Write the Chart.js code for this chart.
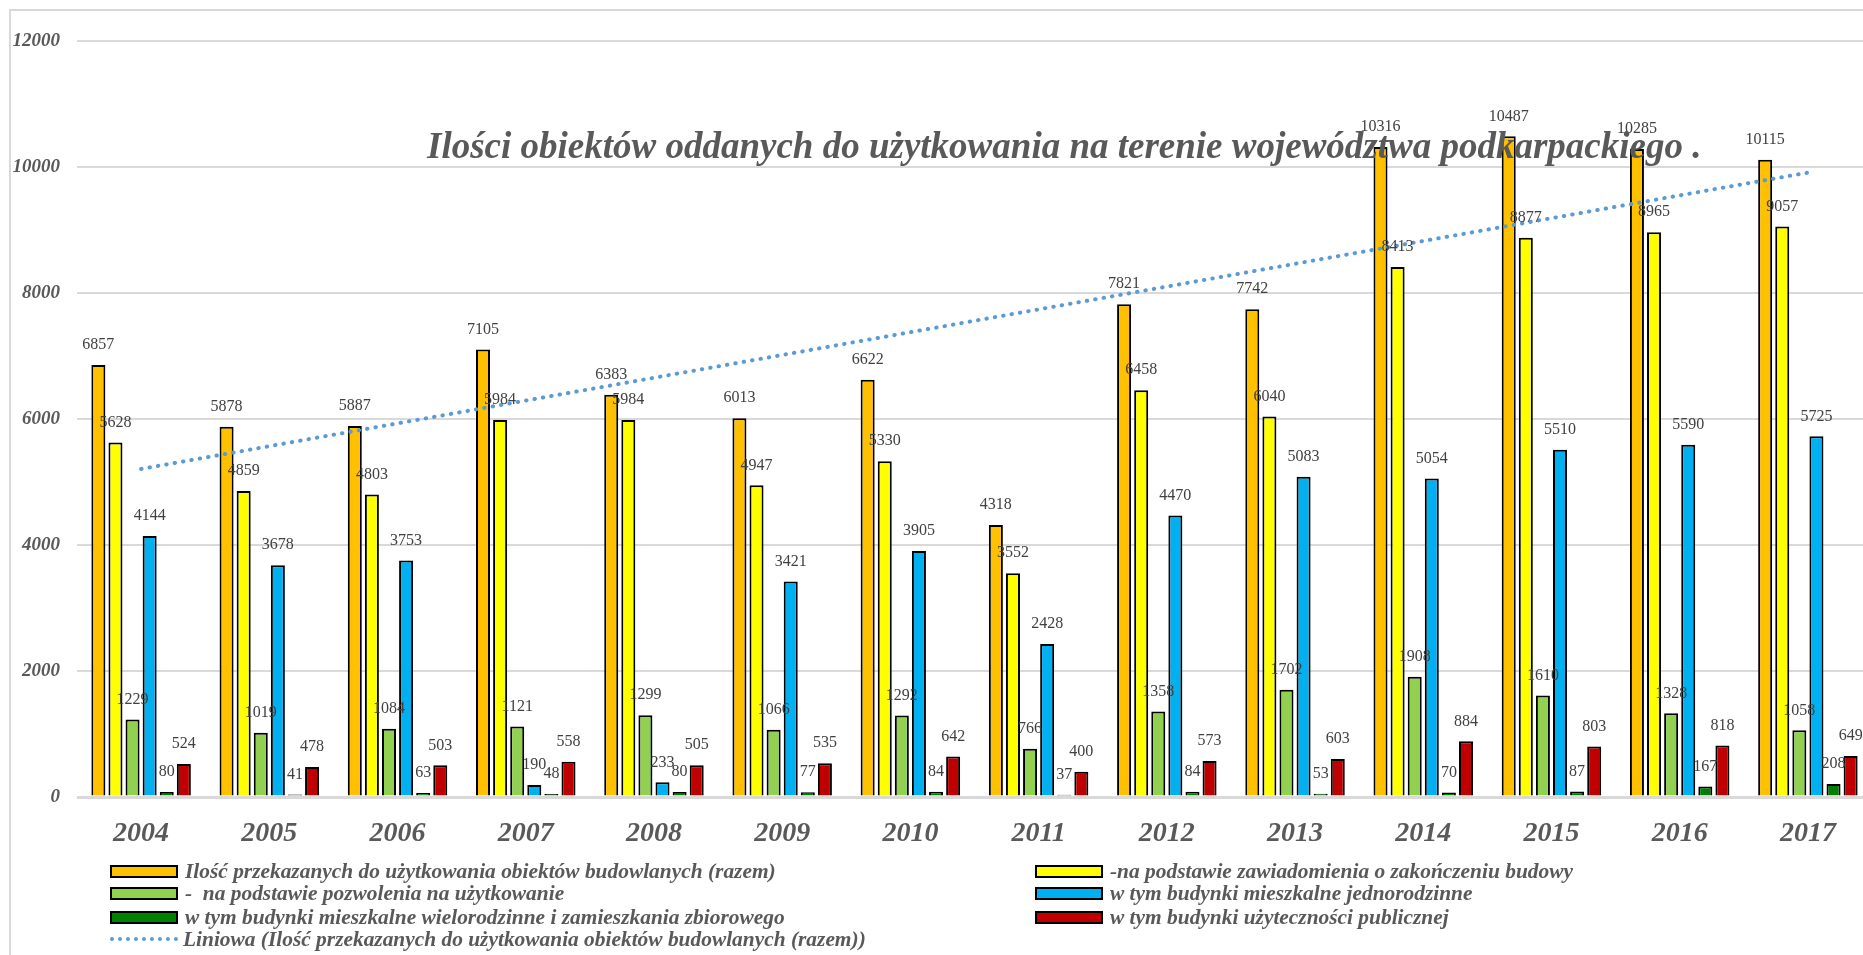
<!DOCTYPE html>
<html>
<head>
<meta charset="utf-8">
<script src="https://cdn.jsdelivr.net/npm/chart.js"></script>
<style>
  body { margin: 0; background: #fff; overflow: hidden; width: 1863px; height: 955px; position: relative; }
  #frame { position: absolute; left: 9px; top: 9px; width: 2000px; height: 1000px; border-left: 2px solid #d9d9d9; border-top: 2px solid #d9d9d9; }
  #chart { position: absolute; left: 0; top: 0; }
  #title { position: absolute; left: 427px; top: 127px; font: bold italic 37px/37px "Liberation Serif", serif; color: #595959; white-space: pre; pointer-events: none; }
  .item { position: absolute; height: 24px; display: flex; align-items: center; font: bold italic 21.4px "Liberation Serif", serif; color: #595959; white-space: pre; }
  .box { width: 64px; height: 9px; border: 2px solid #000; margin-right: 7px; }
  .dots { width: 68px; height: 0; border-top: 4px dotted #5b9bd5; margin-right: 5px; }
</style>
</head>
<body>
<div id="frame"></div>
<canvas id="chart" width="1885" height="955" style="width:1885px;height:955px"></canvas>
<div id="title">Ilości obiektów oddanych do użytkowania na terenie województwa podkarpackiego .</div>
<div id="legend"></div>
<script>
const years = ["2004", "2005", "2006", "2007", "2008", "2009", "2010", "2011", "2012", "2013", "2014", "2015", "2016", "2017"];

const totalObjects = [6857, 5878, 5887, 7105, 6383, 6013, 6622, 4318, 7821, 7742, 10316, 10487, 10285, 10115];
const byNotice = [5628, 4859, 4803, 5984, 5984, 4947, 5330, 3552, 6458, 6040, 8413, 8877, 8965, 9057];
const byPermit = [1229, 1019, 1084, 1121, 1299, 1066, 1292, 766, 1358, 1702, 1908, 1610, 1328, 1058];
const singleFamily = [4144, 3678, 3753, 190, 233, 3421, 3905, 2428, 4470, 5083, 5054, 5510, 5590, 5725];
const multiFamily = [80, 41, 63, 48, 80, 77, 84, 37, 84, 53, 70, 87, 167, 208];
const publicUse = [524, 478, 503, 558, 505, 535, 642, 400, 573, 603, 884, 803, 818, 649];

// trend line: value at 2004 and at 2017
const trendEnds = [5207, 9911];

const names = [
  "Ilość przekazanych do użytkowania obiektów budowlanych (razem)",
  "-na podstawie zawiadomienia o zakończeniu budowy",
  "-  na podstawie pozwolenia na użytkowanie",
  "w tym budynki mieszkalne jednorodzinne",
  "w tym budynki mieszkalne wielorodzinne i zamieszkania zbiorowego",
  "w tym budynki użyteczności publicznej"
];
const trendName = "Liniowa (Ilość przekazanych do użytkowania obiektów budowlanych (razem))";
const colors = ["#FFC000", "#FFFF00", "#92D050", "#00B0F0", "#008000", "#C00000"];
const series = [totalObjects, byNotice, byPermit, singleFamily, multiFamily, publicUse];

const trendData = years.map((y, i) => i === 0 ? trendEnds[0] : (i === years.length - 1 ? trendEnds[1] : null));

const datasets = series.map((values, i) => ({
  type: "bar",
  label: names[i],
  data: values,
  backgroundColor: colors[i],
  borderColor: "#000",
  borderWidth: 2,
  categoryPercentage: 0.8,
  barPercentage: 0.82,
  order: 1
}));
datasets.push({
  type: "line",
  label: trendName,
  data: trendData,
  borderColor: "#5B9BD5",
  borderWidth: 4,
  borderDash: [0.5, 8],
  borderCapStyle: "round",
  pointRadius: 0,
  spanGaps: true,
  fill: false,
  order: 0
});

const valueLabels = {
  id: "valueLabels",
  afterDatasetsDraw(chart) {
    const ctx = chart.ctx;
    ctx.save();
    ctx.font = '16px "Liberation Serif"';
    ctx.fillStyle = "#404040";
    ctx.textAlign = "center";
    ctx.textBaseline = "middle";
    chart.data.datasets.forEach((ds, i) => {
      if (ds.type !== "bar") return;
      chart.getDatasetMeta(i).data.forEach((bar, j) => {
        ctx.fillText(ds.data[j], bar.x, bar.y - 20);
      });
    });
    ctx.restore();
  }
};

new Chart(document.getElementById("chart"), {
  data: { labels: years, datasets: datasets },
  options: {
    responsive: false,
    animation: false,
    layout: { padding: { top: 41, right: 13, left: 0, bottom: 0 } },
    plugins: {
      legend: { display: false },
      tooltip: { enabled: false }
    },
    scales: {
      x: {
        grid: { display: false },
        border: { display: false },
        ticks: {
          padding: 12,
          color: "#595959",
          font: { family: "Liberation Serif", size: 28, style: "italic", weight: "bold" }
        },
        afterFit(scale) { scale.height = 158; }
      },
      y: {
        min: 0,
        max: 12000,
        border: { display: false },
        grid: {
          color: "#D9D9D9",
          lineWidth: (c) => c.tick && c.tick.value === 0 ? 3 : 2,
          drawTicks: false
        },
        ticks: {
          stepSize: 2000,
          padding: 17,
          color: "#595959",
          font: { family: "Liberation Serif", size: 19, style: "italic", weight: "bold" },
          callback: (v) => String(v)
        },
        afterFit(scale) { scale.width = 77; }
      }
    }
  },
  plugins: [valueLabels]
});

// legend: two columns, trend line on its own row
const legend = document.getElementById("legend");
const rowTops = [859, 881, 905, 927];
names.forEach((name, i) => {
  const el = document.createElement("div");
  el.className = "item";
  el.style.left = (i % 2 === 0 ? 110 : 1035) + "px";
  el.style.top = rowTops[Math.floor(i / 2)] + "px";
  const box = document.createElement("span");
  box.className = "box";
  box.style.background = colors[i];
  el.appendChild(box);
  el.appendChild(document.createTextNode(name));
  legend.appendChild(el);
});
const trendItem = document.createElement("div");
trendItem.className = "item";
trendItem.style.left = "110px";
trendItem.style.top = rowTops[3] + "px";
const dots = document.createElement("span");
dots.className = "dots";
trendItem.appendChild(dots);
trendItem.appendChild(document.createTextNode(trendName));
legend.appendChild(trendItem);
</script>
</body>
</html>
